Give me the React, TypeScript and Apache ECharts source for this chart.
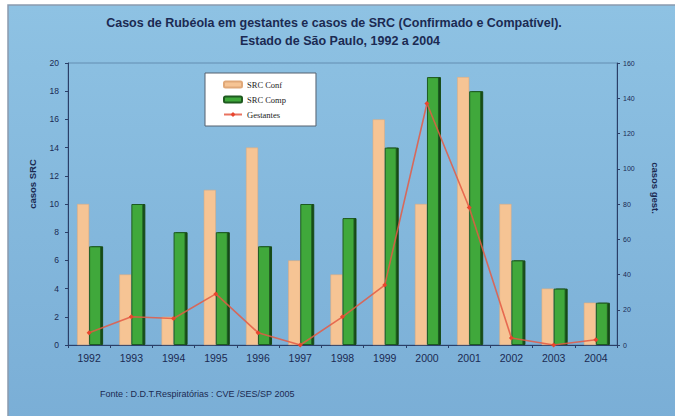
import React, { useEffect, useRef } from "react";
import * as echarts from "echarts";

// Years on the category axis
const years = ["1992", "1993", "1994", "1995", "1996", "1997", "1998", "1999", "2000", "2001", "2002", "2003", "2004"];
// Congenital rubella syndrome cases (left axis)
const srcConf = [10, 5, 2, 11, 14, 6, 5, 16, 10, 19, 10, 4, 3];
const srcComp = [7, 10, 8, 8, 7, 10, 9, 14, 19, 18, 6, 4, 3];
// Rubella cases in pregnant women (right axis)
const gestantes = [7, 16, 15, 29, 7, 0, 16, 34, 137, 78, 4, 0, 3];

const leftMax = 20;
const leftStep = 2;
const rightMax = 160;
const rightStep = 20;

const titleLines = [
  "Casos de Rubéola em gestantes e casos de SRC (Confirmado e Compatível).",
  "Estado de São Paulo, 1992 a 2004",
];
const sourceNote = "Fonte : D.D.T.Respiratórias : CVE /SES/SP 2005";

const ink = "#1b2a52";
const axisInk = "#2b3f68";
const font = "Liberation Sans, Arial, sans-serif";

export default function App() {
  const ref = useRef<HTMLDivElement>(null);

  useEffect(() => {
    document.body.style.margin = "0";
    if (!ref.current) return;
    const chart = echarts.init(ref.current, undefined, { renderer: "svg" });

    const label = (text: string, x: number, y: number, size: number, extra: any = {}) => ({
      type: "text",
      x,
      y,
      ...extra,
      style: {
        text,
        align: "center",
        verticalAlign: "middle",
        fontSize: size,
        fontWeight: "bold",
        fontFamily: font,
        fill: ink,
        ...(extra.style || {}),
      },
    });

    chart.setOption({
      animation: false,
      backgroundColor: "#ffffff",
      textStyle: { fontFamily: font },
      graphic: [
        {
          type: "rect",
          z: -10,
          shape: { x: 8, y: 5, width: 680, height: 420 },
          style: {
            fill: new echarts.graphic.LinearGradient(0, 0, 0, 1, [
              { offset: 0, color: "#8ec2e3" },
              { offset: 1, color: "#7aaed6" },
            ]),
            stroke: "#8a9aae",
            lineWidth: 1.5,
          },
        },
        label(titleLines[0], 334, 23, 12.5),
        label(titleLines[1], 340, 41, 12.5),
        label("casos SRC", 32, 184, 9.5, { rotation: Math.PI / 2 }),
        label("casos gest.", 655, 188, 9.5, { rotation: -Math.PI / 2 }),
        label(sourceNote, 100, 394, 9, { style: { align: "left", fontWeight: "normal" } }),
      ],
      legend: {
        orient: "vertical",
        left: 205,
        top: 73,
        padding: [7, 30, 7, 18],
        itemGap: 6,
        itemWidth: 18,
        itemHeight: 6,
        backgroundColor: "#ffffff",
        borderColor: "#55606e",
        borderWidth: 1,
        textStyle: { fontFamily: "Liberation Serif, Times New Roman, serif", fontSize: 8.5, color: "#222" },
        data: [
          { name: "SRC Conf" },
          { name: "SRC Comp" },
          { name: "Gestantes" },
        ],
      },
      grid: {
        left: 68,
        right: 58,
        top: 63,
        bottom: 71,
        containLabel: false,
        outerBoundsMode: "none",
        show: true,
        backgroundColor: "rgba(0,0,0,0)",
        borderColor: "rgba(50,80,120,0.45)",
        borderWidth: 1,
      },
      xAxis: {
        type: "category",
        data: years,
        axisLine: { lineStyle: { color: axisInk, width: 1 } },
        axisTick: { show: true, length: 3, lineStyle: { color: axisInk } },
        axisLabel: { fontSize: 10.5, color: ink, margin: 7, fontFamily: font },
      },
      yAxis: [
        {
          type: "value",
          min: 0,
          max: leftMax,
          interval: leftStep,
          splitLine: { show: false },
          axisLine: { show: true, lineStyle: { color: axisInk, width: 1 } },
          axisTick: { show: true, length: 3, lineStyle: { color: axisInk } },
          axisLabel: { fontSize: 8.5, color: ink, margin: 9, fontFamily: font },
        },
        {
          type: "value",
          min: 0,
          max: rightMax,
          interval: rightStep,
          splitLine: { show: false },
          axisLine: { show: true, lineStyle: { color: axisInk, width: 1 } },
          axisTick: { show: true, length: 3, lineStyle: { color: axisInk } },
          axisLabel: { fontSize: 7, color: ink, margin: 6, fontFamily: font },
        },
      ],
      series: [
        {
          name: "SRC Conf",
          type: "bar",
          yAxisIndex: 0,
          data: srcConf,
          barWidth: 12,
          barGap: "0%",
          itemStyle: {
            color: "#f6c494",
            borderColor: "#e0a878",
            borderWidth: 0.5,
          },
        },
        {
          name: "SRC Comp",
          type: "bar",
          yAxisIndex: 0,
          data: srcComp,
          barWidth: 12,
          barGap: "0%",
          itemStyle: {
            color: "#3fa83a",
            borderColor: "#1f5a20",
            borderWidth: 1,
            shadowColor: "#174a18",
            shadowOffsetX: 2,
            shadowOffsetY: 0,
            shadowBlur: 0,
          },
        },
        {
          name: "Gestantes",
          type: "line",
          yAxisIndex: 1,
          data: gestantes,
          symbol: "diamond",
          symbolSize: 5,
          z: 5,
          lineStyle: { color: "#e45a44", width: 1.6, opacity: 0.85 },
          itemStyle: { color: "#e8452e" },
        },
      ],
    });

    return () => chart.dispose();
  }, []);

  return <div ref={ref} style={{ width: 675, height: 416 }} />;
}
